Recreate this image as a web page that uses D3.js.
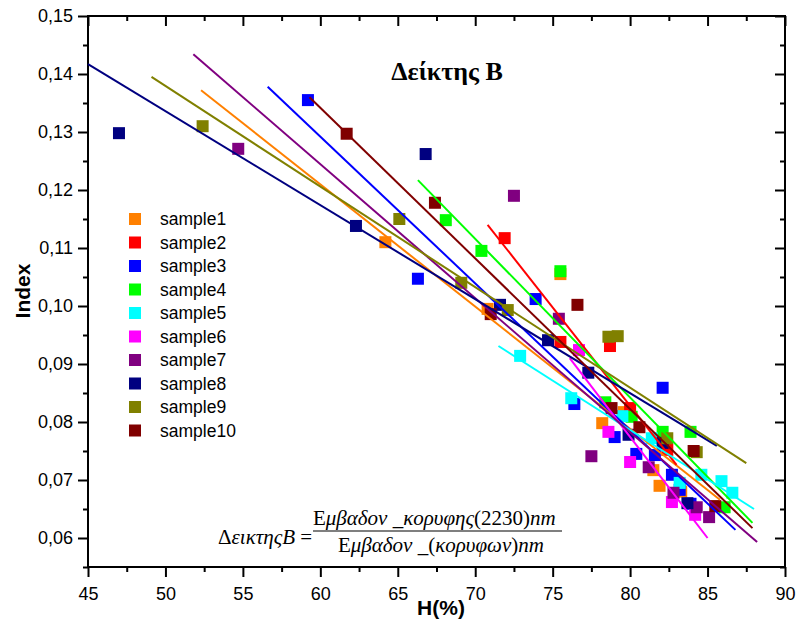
<!DOCTYPE html>
<html>
<head>
<meta charset="utf-8">
<script src="https://cdn.jsdelivr.net/npm/d3@7"></script>
<style>
  html, body { margin: 0; padding: 0; background: #fff; }
  svg { display: block; }
</style>
</head>
<body>
<svg id="chart" width="796" height="626"></svg>
<script>
// Series names and marker colours
const categories = ["sample1", "sample2", "sample3", "sample4", "sample5",
                    "sample6", "sample7", "sample8", "sample9", "sample10"];
const colors = ["#FF8000", "#FF0000", "#0000FF", "#00FF00", "#00FFFF",
                "#FF00FF", "#800080", "#000080", "#808000", "#800000"];

// H(%) values per sample
const hValues = [
  [64.2, 70.8, 75.5, 78.2, 79.6, 81.5, 81.9, 83.3],
  [71.9, 75.5, 78.7, 80.0, 82.4],
  [59.2, 66.3, 73.9, 76.4, 79.0, 82.1, 80.4, 81.6, 82.7, 83.2, 83.9],
  [68.1, 70.4, 75.5, 78.4, 80.1, 82.1, 83.9, 86.1],
  [72.9, 76.2, 79.5, 81.4, 83.2, 84.6, 85.9, 86.6],
  [76.7, 78.6, 80.0, 82.7, 84.2],
  [54.7, 72.5, 75.4, 77.5, 81.2, 82.8, 84.3, 85.1],
  [47.0, 62.3, 66.8, 71.6, 74.7, 77.3, 79.9, 82.1, 83.7],
  [52.4, 65.1, 69.1, 72.1, 78.6, 79.2, 82.4, 84.3],
  [61.7, 67.4, 76.6, 71.0, 78.8, 80.6, 84.1, 85.5]
];

// Index values per sample
const indexValues = [
  [0.1110, 0.0995, 0.1055, 0.0798, 0.0817, 0.0717, 0.0690, 0.0680],
  [0.1117, 0.0938, 0.0931, 0.0824, 0.0752],
  [0.1355, 0.1047, 0.1012, 0.0831, 0.0774, 0.0859, 0.0745, 0.0743, 0.0709, 0.0683, 0.0659],
  [0.1148, 0.1095, 0.1060, 0.0834, 0.0809, 0.0783, 0.0783, 0.0653],
  [0.0914, 0.0841, 0.0810, 0.0772, 0.0695, 0.0709, 0.0698, 0.0678],
  [0.0924, 0.0783, 0.0731, 0.0662, 0.0640],
  [0.1271, 0.1190, 0.0978, 0.0741, 0.0722, 0.0678, 0.0653, 0.0636],
  [0.1298, 0.1138, 0.1262, 0.1002, 0.0941, 0.0885, 0.0778, 0.0764, 0.0660],
  [0.1310, 0.1150, 0.1040, 0.0993, 0.0947, 0.0948, 0.0772, 0.0748],
  [0.1297, 0.1178, 0.1002, 0.0986, 0.0824, 0.0791, 0.0750, 0.0655]
];

// Linear fit per sample: start and end H, start and end Index
const fitH = [
  [52.3, 85.8], [70.8, 83.0], [56.6, 86.8], [66.3, 87.9], [71.5, 88.0],
  [76.1, 85.0], [51.8, 88.2], [45.0, 85.6], [49.1, 87.5], [59.3, 87.9]
];
const fitIndex = [
  [0.1372, 0.0666], [0.1140, 0.0726], [0.1378, 0.0614], [0.1217, 0.0626], [0.0931, 0.0650],
  [0.0910, 0.0600], [0.1434, 0.0593], [0.1417, 0.0759], [0.1395, 0.0729], [0.1360, 0.0617]
];

// Axis ticks
const xTicks = [45, 50, 55, 60, 65, 70, 75, 80, 85, 90];
const xMinor = [47.5, 52.5, 57.5, 62.5, 67.5, 72.5, 77.5, 82.5, 87.5];
const yTicks = [0.06, 0.07, 0.08, 0.09, 0.10, 0.11, 0.12, 0.13, 0.14, 0.15];
const yMinor = [0.055, 0.065, 0.075, 0.085, 0.095, 0.105, 0.115, 0.125, 0.135, 0.145];

const svg = d3.select("#chart");
const x = d3.scaleLinear().domain([45, 90]).range([88, 785]);
const y = d3.scaleLinear().domain([0.055, 0.15]).range([567, 16]);
const sans = "'Liberation Sans', Arial, sans-serif";
const serif = "'Liberation Serif', 'Times New Roman', serif";
const fmtY = v => d3.format(".2f")(v).replace(".", ",");

function styleAxis(g) {
  g.selectAll(".domain").remove();
  g.selectAll("line").attr("stroke", "#000").attr("stroke-width", 2);
  g.selectAll("text").attr("font-family", sans).attr("font-size", 18).attr("fill", "#000");
}

// Bottom axis (outward ticks) with labels
svg.append("g").attr("transform", `translate(0,567)`)
  .call(d3.axisBottom(x).tickValues(xTicks).tickSize(10).tickPadding(10).tickFormat(d3.format("d")))
  .call(styleAxis);
svg.append("g").attr("transform", `translate(0,567)`)
  .call(d3.axisBottom(x).tickValues(xMinor).tickSize(5).tickFormat(""))
  .call(styleAxis);
// Top axis (inward ticks)
svg.append("g").attr("transform", `translate(0,16)`)
  .call(d3.axisTop(x).tickValues(xTicks).tickSize(-10).tickFormat(""))
  .call(styleAxis);
svg.append("g").attr("transform", `translate(0,16)`)
  .call(d3.axisTop(x).tickValues(xMinor).tickSize(-5).tickFormat(""))
  .call(styleAxis);
// Left axis (outward ticks) with labels
svg.append("g").attr("transform", `translate(88,0)`)
  .call(d3.axisLeft(y).tickValues(yTicks).tickSize(10).tickPadding(5).tickFormat(fmtY))
  .call(styleAxis);
svg.append("g").attr("transform", `translate(88,0)`)
  .call(d3.axisLeft(y).tickValues(yMinor).tickSize(5).tickFormat(""))
  .call(styleAxis);
// Right axis (inward ticks)
svg.append("g").attr("transform", `translate(785,0)`)
  .call(d3.axisRight(y).tickValues(yTicks).tickSize(-10).tickFormat(""))
  .call(styleAxis);
svg.append("g").attr("transform", `translate(785,0)`)
  .call(d3.axisRight(y).tickValues(yMinor).tickSize(-5).tickFormat(""))
  .call(styleAxis);

// Frame
svg.append("rect")
  .attr("x", x(45)).attr("y", y(0.15))
  .attr("width", x(90) - x(45)).attr("height", y(0.055) - y(0.15))
  .attr("fill", "none").attr("stroke", "#000").attr("stroke-width", 2);

// Markers
const msize = 12;
categories.forEach((name, i) => {
  const pts = hValues[i].map((h, j) => [h, indexValues[i][j]]);
  svg.append("g").attr("class", "series-" + name)
    .selectAll("rect").data(pts).join("rect")
    .attr("x", d => x(d[0]) - msize / 2)
    .attr("y", d => y(d[1]) - msize / 2)
    .attr("width", msize).attr("height", msize)
    .attr("fill", colors[i]);
});

// Fit lines
const line = d3.line().x(d => x(d[0])).y(d => y(d[1]));
categories.forEach((name, i) => {
  const seg = [[fitH[i][0], fitIndex[i][0]], [fitH[i][1], fitIndex[i][1]]];
  svg.append("path").datum(seg)
    .attr("d", line)
    .attr("fill", "none")
    .attr("stroke", colors[i])
    .attr("stroke-width", 2);
});

// Legend
const legend = svg.append("g");
categories.forEach((name, i) => {
  const cy = 219 + i * 23.5;
  legend.append("rect")
    .attr("x", 129).attr("y", cy - 6).attr("width", 12).attr("height", 12)
    .attr("fill", colors[i]);
  legend.append("text")
    .attr("x", 160).attr("y", cy).attr("dy", "0.35em")
    .attr("font-family", sans).attr("font-size", 17.5).attr("fill", "#000")
    .text(name);
});

// Title
svg.append("text")
  .attr("x", 447).attr("y", 80).attr("text-anchor", "middle")
  .attr("font-family", serif).attr("font-weight", "bold").attr("font-size", 26)
  .text("Δείκτης Β");

// Axis titles
svg.append("text")
  .attr("x", 441).attr("y", 615).attr("text-anchor", "middle")
  .attr("font-family", sans).attr("font-weight", "bold").attr("font-size", 21)
  .text("H(%)");
svg.append("text")
  .attr("transform", "translate(30,291) rotate(-90)")
  .attr("text-anchor", "middle")
  .attr("font-family", sans).attr("font-weight", "bold").attr("font-size", 21)
  .text("Index");

// Formula
const formula = svg.append("g").attr("font-family", serif).attr("font-size", 21).attr("fill", "#000");
function richText(xPos, yPos, parts) {
  const t = formula.append("text").attr("x", xPos).attr("y", yPos);
  parts.forEach(p => {
    t.append("tspan").attr("font-style", p[1] ? "italic" : "normal").text(p[0]);
  });
  return t;
}
richText(218, 544, [["Δ", false], ["εικτηςB", true], [" = ", false]]);
richText(313, 525, [["Ε", false], ["μβαδον _κορυφης", true], ["(2230)", false], ["nm", true]]);
richText(338, 552, [["Ε", false], ["μβαδον _", true], ["(", false], ["κορυφων", true], [")", false], ["nm", true]]);
svg.append("line")
  .attr("x1", 313).attr("x2", 562).attr("y1", 531).attr("y2", 531)
  .attr("stroke", "#000").attr("stroke-width", 1.2);
</script>
</body>
</html>
